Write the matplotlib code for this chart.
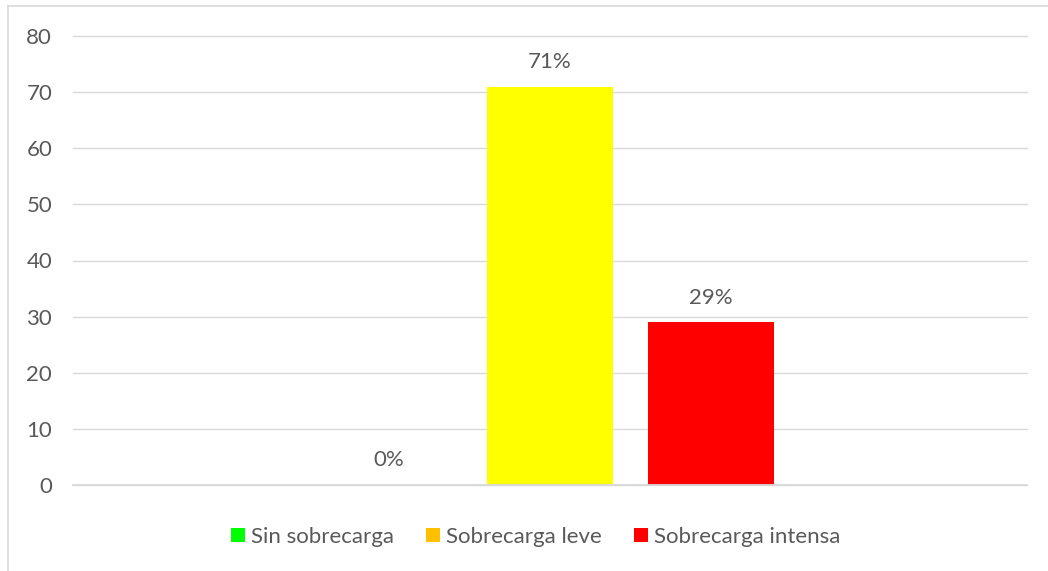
import matplotlib
matplotlib.use("Agg")
import matplotlib.pyplot as plt
from matplotlib.patches import Patch
from matplotlib.lines import Line2D

series = ["Sin sobrecarga", "Sobrecarga leve", "Sobrecarga intensa"]
values = [0, 71, 29]
labels = ["0%", "71%", "29%"]
bar_colors = ["#00FF00", "#FFFF00", "#FF0000"]
legend_colors = ["#00FF00", "#FFC000", "#FF0000"]
yticks = [0, 10, 20, 30, 40, 50, 60, 70, 80]

plt.rcParams['font.family'] = ['Lato', 'DejaVu Sans']
txt = "#595959"
fs = 16

fig = plt.figure(figsize=(10.48, 5.71), dpi=100)
W, H = 1048, 571
ax = fig.add_axes([73 / W, 1 - 485 / H, (1027 - 73) / W, (485 - 36) / H])

bw = 126 / 954
offsets = [-161 / 954, 0, 161 / 954]
for v, c, o, lab in zip(values, bar_colors, offsets, labels):
    ax.bar(o, v, width=bw, color=c, zorder=3)
    ax.annotate(lab, (o, v), xytext=(0, 10.5), textcoords="offset points",
                ha="center", va="bottom", fontsize=fs, color=txt)

ax.set_xlim(-0.5, 0.5)
ax.set_ylim(0, 80)
ax.set_yticks(yticks)
ax.set_xticks([])
ax.grid(axis="y", color="#D9D9D9", linewidth=1, zorder=0)
for gl in ax.get_ygridlines():
    gl.set_clip_on(False)
ax.axhline(0, color="#D9D9D9", linewidth=1.3, zorder=4, clip_on=False)
for s in ax.spines.values():
    s.set_visible(False)
ax.tick_params(axis="y", length=0, pad=15, labelsize=fs, labelcolor=txt)

# chart border (top & left visible)
fig.add_artist(Line2D([8 / W, 8 / W], [0, 1 - 6 / H], color="#D9D9D9", lw=1.2, transform=fig.transFigure))
fig.add_artist(Line2D([8 / W, 1], [1 - 6 / H, 1 - 6 / H], color="#D9D9D9", lw=1.2, transform=fig.transFigure))

handles = [Patch(facecolor=c, edgecolor="none") for c in legend_colors]
fig.legend(handles, series, loc="center", bbox_to_anchor=(536 / W, 1 - 537 / H), ncol=3,
           frameon=False, fontsize=fs, labelcolor=txt, handlelength=0.6, handleheight=0.6,
           handletextpad=0.3, columnspacing=1.45)

fig.savefig("out.png", dpi=100)
